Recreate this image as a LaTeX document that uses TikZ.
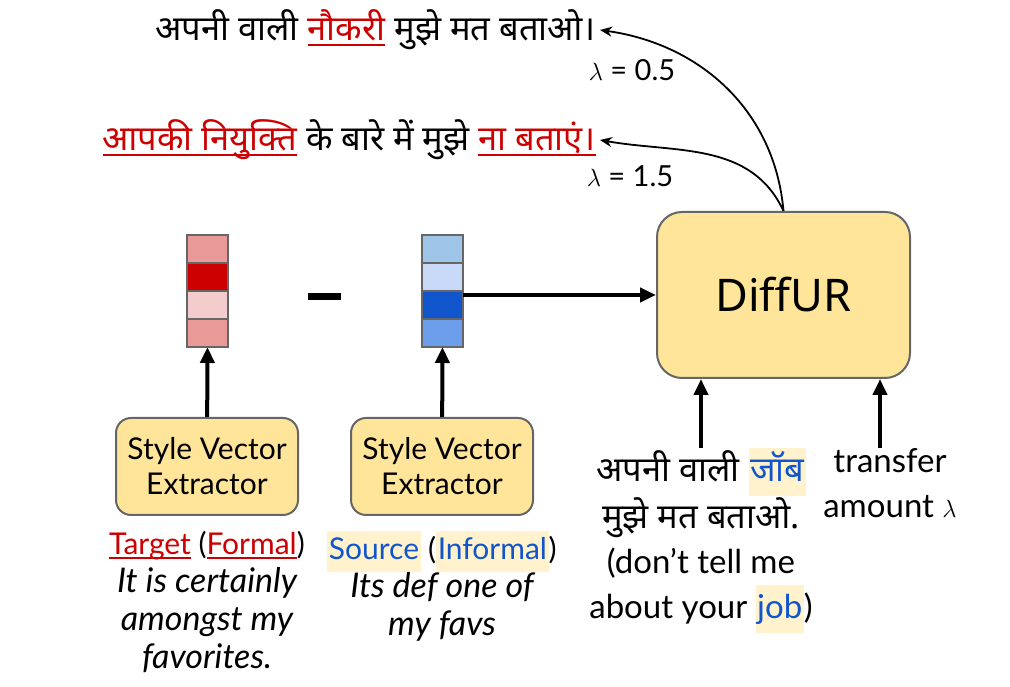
\documentclass[tikz,border=0pt]{standalone}
\usepackage{fontspec}
\setmainfont{Lato}
\newfontfamily\hindi[Script=Devanagari]{Noto Sans}
\newfontfamily\hindibig[Script=Devanagari, Scale=1.045]{Noto Sans}
\newfontfamily\plainsans{Noto Sans}
\usetikzlibrary{arrows.meta}
\usetikzlibrary{positioning}
\usepackage{xcolor}
\definecolor{boxfill}{HTML}{FFE599}
\definecolor{boxline}{HTML}{666666}
\definecolor{formalred}{HTML}{CC0000}
\definecolor{srcblue}{HTML}{1155CC}
\definecolor{hlfill}{HTML}{FFF2CC}
\definecolor{redlight}{HTML}{EA9999}
\definecolor{redpale}{HTML}{F4CCCC}
\definecolor{bluelight}{HTML}{9FC5E8}
\definecolor{bluepale}{HTML}{C9DAF8}
\definecolor{bluemid}{HTML}{6D9EEB}
\newcommand{\redul}[1]{{\color{formalred}\setbox0\hbox{#1}\rlap{\rule[-5pt]{\wd0}{2pt}}\box0}}
\newcommand{\bluehl}[1]{{\setlength{\fboxsep}{1.5pt}\colorbox{hlfill}{\color{srcblue}\strut#1}}}
\newcommand{\bigit}[1]{{\fontsize{34}{38}\selectfont\itshape #1}}

\begin{document}
\begin{tikzpicture}[
    x=1pt, y=1pt,
    node distance=15pt,
    block/.style={rectangle, draw=boxline, fill=boxfill, line width=2pt,
      rounded corners=15pt, align=center, font=\fontsize{30}{35}\selectfont,
      minimum width=182pt, minimum height=97pt},
    cell/.style={rectangle, draw=boxline, line width=2pt, outer sep=0pt,
      minimum width=41pt, minimum height=28pt, inner sep=0pt},
    arrow/.style={-{Triangle[length=16pt, width=14pt]}, line width=4pt},
    curvearrow/.style={-{Stealth[length=12pt, width=10pt]}, line width=1.8pt},
    hitext/.style={font=\fontsize{34.5}{40}\selectfont\hindi, inner sep=0pt, outer sep=4pt},
    lam/.style={font=\fontsize{29}{34}\selectfont},
    caption/.style={align=center, inner sep=0pt, font=\fontsize{30}{38}\selectfont},
  ]
    \useasboundingbox (0,0) rectangle (1010,687);

    \node[anchor=east, hitext] (out1) at (600, 657)
      {अपनी वाली \redul{नौकरी} मुझे मत बताओ।};
    \node[lam] (lamA) at (632, 617) {$\lambda$ = 0.5};
    \node[anchor=east, hitext] (out2) at (600, 547)
      {\redul{आपकी नियुक्ति} के बारे में मुझे \redul{ना बताएं।}};
    \node[lam] (lamB) at (630, 511) {$\lambda$ = 1.5};

    \node[block, minimum width=253pt, minimum height=166pt, rounded corners=25pt,
      font=\fontsize{45}{54}\selectfont\plainsans] (diffur) at (783.5, 392) {DiffUR};

    \node[cell, fill=redlight] (t1) at (207.5, 438) {};
    \node[cell, fill=formalred, below=0pt of t1] (t2) {};
    \node[cell, fill=redpale, below=0pt of t2] (t3) {};
    \node[cell, fill=redlight, below=0pt of t3] (t4) {};

    \node[fill=black, minimum width=33pt, minimum height=7pt, inner sep=0pt]
      (minus) at (324.5, 390.5) {};

    \node[cell, fill=bluelight] (s1) at (442.5, 438) {};
    \node[cell, fill=bluepale, below=0pt of s1] (s2) {};
    \node[cell, fill=srcblue, below=0pt of s2] (s3) {};
    \node[cell, fill=bluemid, below=0pt of s3] (s4) {};

    \node[block] (extT) at (207, 220.5) {Style Vector\\Extractor};
    \node[block] (extS) at (442, 220.5) {Style Vector\\Extractor};

    \node[caption, below=of extT] (tgt)
      {\redul{Target} (\redul{Formal})\\ \bigit{It is certainly}\\
       \bigit{amongst my}\\ \bigit{favorites.}};
    \node[caption, below=of extS] (src)
      {\bluehl{Source} (\bluehl{Informal})\\ \bigit{Its def one of}\\
       \bigit{my favs}};

    \node[caption, anchor=north, font=\fontsize{33}{45}\selectfont] (inp) at (701, 239)
      {{\hindibig अपनी वाली \bluehl{जॉब}}\\ {\hindibig मुझे मत बताओ.}\\
       (don’t tell me\\ about your \bluehl{job})};
    \node[caption, anchor=north, font=\fontsize{33}{45}\selectfont] (amt) at (890, 239)
      {transfer\\ amount $\lambda$};

    \draw[arrow] (extT) -- (t4);
    \draw[arrow] (extS) -- (s4);
    \draw[arrow] (s3.east |- diffur.west) -- (diffur.west);
    \draw[arrow] (inp.north) -- (inp.north |- diffur.south);
    \draw[arrow] ([xshift=-10pt]amt.north) -- ([xshift=-10pt]amt.north |- diffur.south);
    \draw[curvearrow] (diffur.north) to[out=95, in=-8] (out1.east);
    \draw[curvearrow] (diffur.north) to[out=115, in=-10] (out2.east);
  \end{tikzpicture}
\end{document}
